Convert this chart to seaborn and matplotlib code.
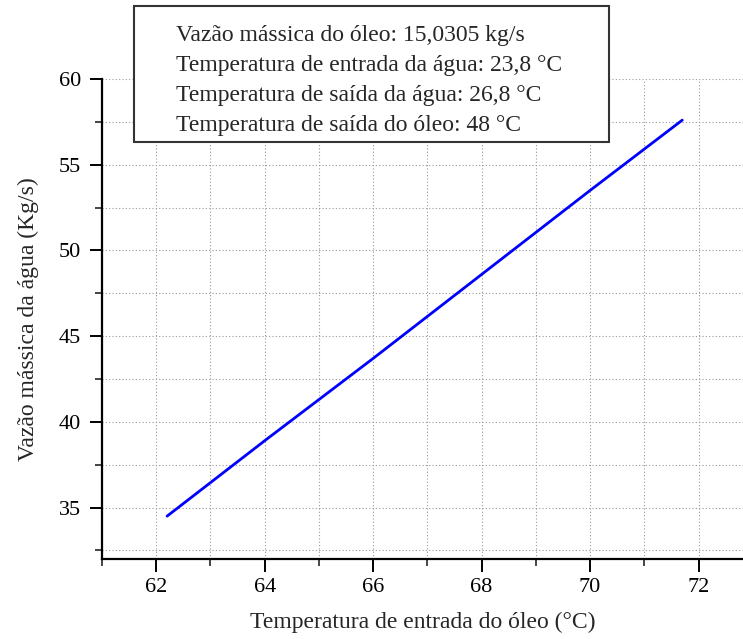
import numpy as np
import pandas as pd
import seaborn as sns
import matplotlib.pyplot as plt
from matplotlib.patches import Rectangle
from matplotlib.ticker import MultipleLocator

# dados
temp_oleo = [62.2, 64.0, 66.0, 68.0, 70.0, 71.7]
vazao_agua = [34.5, 38.9, 43.7, 48.6, 53.5, 57.6]

info_linhas = [
    "Vazão mássica do óleo: 15,0305 kg/s",
    "Temperatura de entrada da água: 23,8 °C",
    "Temperatura de saída da água: 26,8 °C",
    "Temperatura de saída do óleo: 48 °C",
]

df = pd.DataFrame({"temp": temp_oleo, "vazao": vazao_agua})

sns.set_style("white")
plt.rcParams['font.family'] = ['Liberation Serif', 'DejaVu Serif']

fig = plt.figure(figsize=(7.43, 6.39), dpi=100)
ax = fig.add_axes([102 / 743, 80 / 639, 641 / 743, 480 / 639])

sns.lineplot(data=df, x="temp", y="vazao", ax=ax, color="#0000ff", linewidth=2)

ax.set_xlim(61, 72.82)
ax.set_ylim(32, 60)
ax.xaxis.set_major_locator(MultipleLocator(2))
ax.xaxis.set_minor_locator(MultipleLocator(1))
ax.yaxis.set_major_locator(MultipleLocator(5))
ax.yaxis.set_minor_locator(MultipleLocator(2.5))

ax.grid(which="both", linestyle=(0, (1, 2)), color="#999999", linewidth=0.8)
for s in ["top", "right"]:
    ax.spines[s].set_visible(False)
for s in ["left", "bottom"]:
    ax.spines[s].set_color("black")
    ax.spines[s].set_linewidth(1.6)

ax.tick_params(axis="y", which="major", direction="out", length=9, width=1.4,
               labelsize=16, left=True, colors="black", pad=6)
ax.tick_params(axis="x", which="major", direction="out", length=9, width=1.4,
               labelsize=16, bottom=True, colors="black", pad=5)
ax.tick_params(which="minor", direction="out", length=5, width=1.2, left=True, bottom=True)

ax.set_xlabel("Temperatura de entrada do óleo (°C)", fontsize=17, labelpad=10)
ax.set_ylabel("Vazão mássica da água (Kg/s)", fontsize=17, labelpad=14)

# caixa de informações
box = Rectangle((134 / 743, 1 - 142 / 639), (609 - 134) / 743, (142 - 6) / 639,
                transform=fig.transFigure, facecolor="white", edgecolor="#333333",
                linewidth=1.5, zorder=5)
fig.patches.append(box)
ys = [35, 66, 96, 126]
for txt, yy in zip(info_linhas, ys):
    fig.text(176 / 743, 1 - yy / 639, txt, fontsize=17, va="center", ha="left", zorder=6)

fig.savefig("out.png", dpi=100)
